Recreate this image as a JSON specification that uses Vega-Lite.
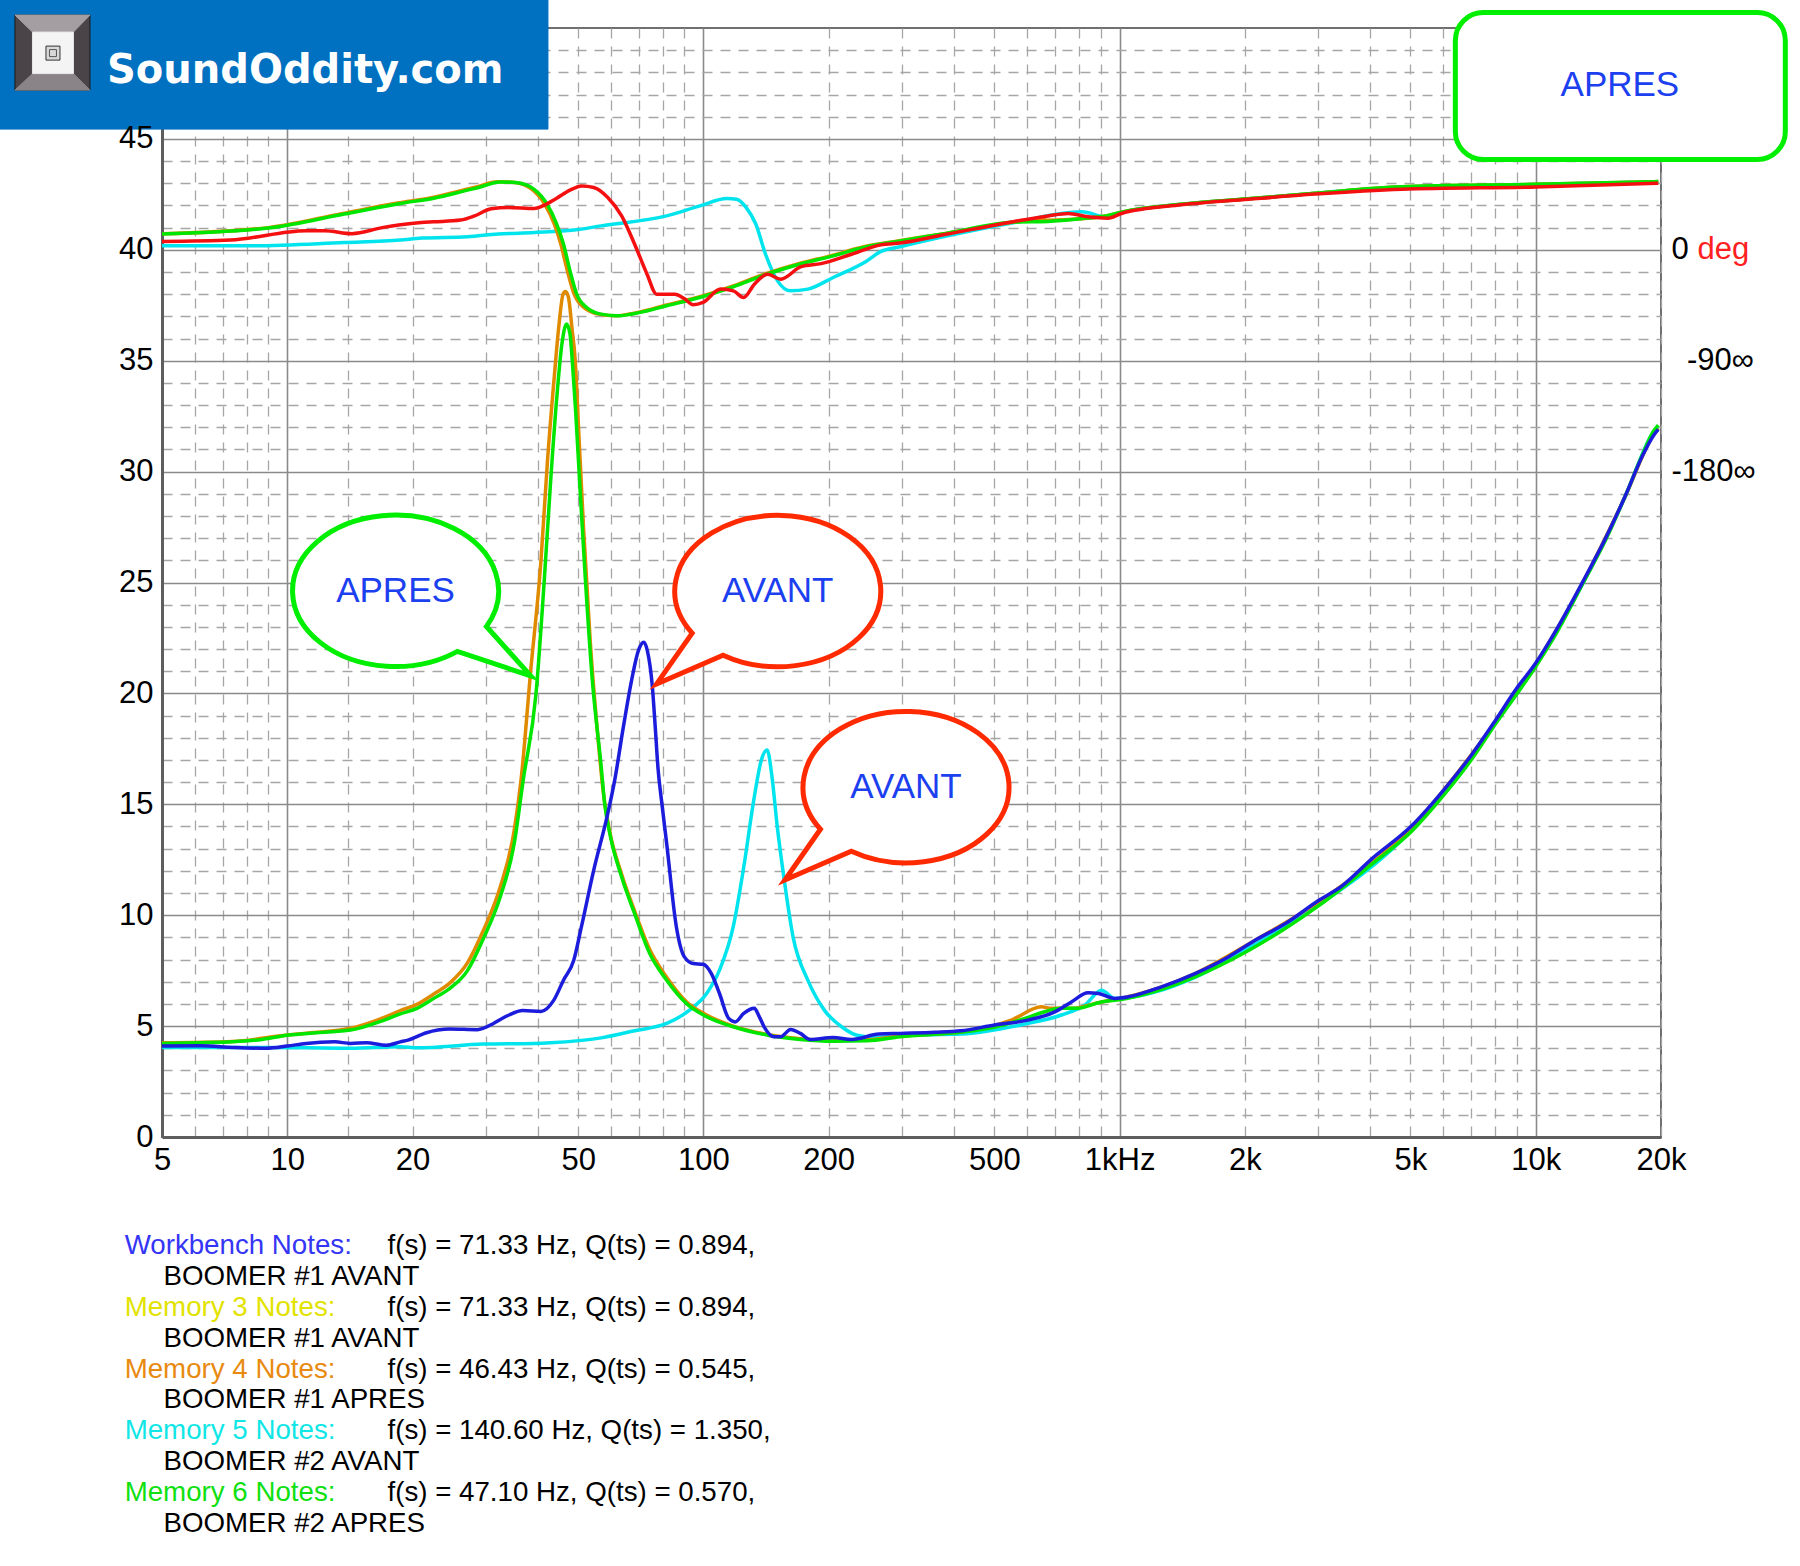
{
  "$schema": "https://vega.github.io/schema/vega-lite/v6.json",
  "width": 1499,
  "height": 1109,
  "autosize": {"type": "none"},
  "padding": {"left": 162, "top": 28, "right": 139, "bottom": 429},
  "background": "white",
  "config": {
    "view": {"stroke": "#707070", "strokeWidth": 2},
    "axis": {"labelFont": "Liberation Sans", "labelFontSize": 31, "labelColor": "#000000", "ticks": false, "tickSize": 0, "titleFont": "Liberation Sans"},
    "text": {"font": "Liberation Sans"}
  },
  "datasets": {
    "impedance": [
      {"series":"Memory 5","f":5,"z":4.04},{"series":"Memory 5","f":8.9,"z":4.04},{"series":"Memory 5","f":14.2,"z":4.0},{"series":"Memory 5","f":18.7,"z":4.07},{"series":"Memory 5","f":20.5,"z":4.02},{"series":"Memory 5","f":29.6,"z":4.19},{"series":"Memory 5","f":39.2,"z":4.22},{"series":"Memory 5","f":42.9,"z":4.25},{"series":"Memory 5","f":56.8,"z":4.47},{"series":"Memory 5","f":68.3,"z":4.79},{"series":"Memory 5","f":81.6,"z":5.12},{"series":"Memory 5","f":92.6,"z":5.72},{"series":"Memory 5","f":101.8,"z":6.47},{"series":"Memory 5","f":109.3,"z":7.52},{"series":"Memory 5","f":117.9,"z":9.47},{"series":"Memory 5","f":125,"z":12.17},{"series":"Memory 5","f":132.5,"z":15.33},{"series":"Memory 5","f":137.7,"z":16.98},{"series":"Memory 5","f":142.3,"z":17.45},{"series":"Memory 5","f":146,"z":16.3},{"series":"Memory 5","f":150.5,"z":13.98},{"series":"Memory 5","f":156,"z":11.73},{"series":"Memory 5","f":164.2,"z":9.02},{"series":"Memory 5","f":178.2,"z":7.07},{"series":"Memory 5","f":195.2,"z":5.72},{"series":"Memory 5","f":214.8,"z":4.97},{"series":"Memory 5","f":234,"z":4.59},{"series":"Memory 5","f":262,"z":4.49},{"series":"Memory 5","f":297,"z":4.59},{"series":"Memory 5","f":416,"z":4.64},{"series":"Memory 5","f":602,"z":5.12},{"series":"Memory 5","f":725,"z":5.5},{"series":"Memory 5","f":825,"z":5.95},{"series":"Memory 5","f":905,"z":6.62},{"series":"Memory 5","f":974,"z":6.25},{"series":"Memory 5","f":1518,"z":7.2},{"series":"Memory 5","f":2116,"z":8.72},{"series":"Memory 5","f":3006,"z":10.45},{"series":"Memory 5","f":5042,"z":13.85},{"series":"Memory 5","f":8000,"z":18.65},{"series":"Memory 5","f":9990,"z":21.25},{"series":"Memory 5","f":12930,"z":24.9},{"series":"Memory 5","f":16430,"z":28.9},{"series":"Memory 5","f":19230,"z":31.8},{"series":"Memory 5","f":19700,"z":32.0},
      {"series":"Memory 4","f":5,"z":4.25},{"series":"Memory 4","f":7.4,"z":4.31},{"series":"Memory 4","f":10,"z":4.6},{"series":"Memory 4","f":11.8,"z":4.72},{"series":"Memory 4","f":14.2,"z":4.9},{"series":"Memory 4","f":17.1,"z":5.39},{"series":"Memory 4","f":18.7,"z":5.7},{"series":"Memory 4","f":20.5,"z":5.98},{"series":"Memory 4","f":22.5,"z":6.45},{"series":"Memory 4","f":24.6,"z":6.95},{"series":"Memory 4","f":27.1,"z":7.85},{"series":"Memory 4","f":29.6,"z":9.32},{"series":"Memory 4","f":32.5,"z":11.28},{"series":"Memory 4","f":35.1,"z":13.83},{"series":"Memory 4","f":36.5,"z":16.2},{"series":"Memory 4","f":38.4,"z":20.89},{"series":"Memory 4","f":40.7,"z":25.99},{"series":"Memory 4","f":42.2,"z":30.5},{"series":"Memory 4","f":43.8,"z":34.25},{"series":"Memory 4","f":44.9,"z":36.5},{"series":"Memory 4","f":46,"z":38.0},{"series":"Memory 4","f":46.6,"z":38.12},{"series":"Memory 4","f":47.4,"z":37.85},{"series":"Memory 4","f":48.3,"z":36.5},{"series":"Memory 4","f":49.2,"z":35.0},{"series":"Memory 4","f":50.1,"z":32.0},{"series":"Memory 4","f":51.5,"z":27.5},{"series":"Memory 4","f":53.5,"z":22.24},{"series":"Memory 4","f":55.5,"z":18.48},{"series":"Memory 4","f":57.5,"z":15.5},{"series":"Memory 4","f":59.5,"z":13.8},{"series":"Memory 4","f":63.6,"z":11.85},{"series":"Memory 4","f":68.3,"z":10.2},{"series":"Memory 4","f":74.3,"z":8.45},{"series":"Memory 4","f":81.6,"z":7.2},{"series":"Memory 4","f":91,"z":6.1},{"series":"Memory 4","f":101.8,"z":5.5},{"series":"Memory 4","f":117.9,"z":5.0},{"series":"Memory 4","f":142.8,"z":4.62},{"series":"Memory 4","f":171,"z":4.43},{"series":"Memory 4","f":205,"z":4.35},{"series":"Memory 4","f":247,"z":4.38},{"series":"Memory 4","f":297,"z":4.55},{"series":"Memory 4","f":416,"z":4.73},{"series":"Memory 4","f":549,"z":5.27},{"series":"Memory 4","f":649,"z":5.87},{"series":"Memory 4","f":685,"z":5.8},{"series":"Memory 4","f":766,"z":5.8},{"series":"Memory 4","f":905,"z":6.09},{"series":"Memory 4","f":1007,"z":6.25},{"series":"Memory 4","f":1518,"z":7.37},{"series":"Memory 4","f":2116,"z":8.87},{"series":"Memory 4","f":3006,"z":10.6},{"series":"Memory 4","f":5042,"z":14.0},{"series":"Memory 4","f":8000,"z":18.7},{"series":"Memory 4","f":9990,"z":21.3},{"series":"Memory 4","f":12930,"z":24.95},{"series":"Memory 4","f":16430,"z":28.9},{"series":"Memory 4","f":19230,"z":31.7},{"series":"Memory 4","f":19700,"z":31.95},
      {"series":"Memory 6","f":5,"z":4.22},{"series":"Memory 6","f":6.2,"z":4.25},{"series":"Memory 6","f":7.4,"z":4.29},{"series":"Memory 6","f":8.7,"z":4.4},{"series":"Memory 6","f":10,"z":4.59},{"series":"Memory 6","f":11.8,"z":4.7},{"series":"Memory 6","f":14.2,"z":4.82},{"series":"Memory 6","f":17.1,"z":5.27},{"series":"Memory 6","f":18.7,"z":5.55},{"series":"Memory 6","f":20.5,"z":5.8},{"series":"Memory 6","f":22.5,"z":6.25},{"series":"Memory 6","f":24.6,"z":6.7},{"series":"Memory 6","f":27.1,"z":7.5},{"series":"Memory 6","f":29.6,"z":8.95},{"series":"Memory 6","f":32.5,"z":10.83},{"series":"Memory 6","f":35.1,"z":13.23},{"series":"Memory 6","f":36.9,"z":16.1},{"series":"Memory 6","f":39.6,"z":19.99},{"series":"Memory 6","f":41.5,"z":25.24},{"series":"Memory 6","f":43,"z":29.74},{"series":"Memory 6","f":44.5,"z":33.5},{"series":"Memory 6","f":45.7,"z":35.75},{"series":"Memory 6","f":46.9,"z":36.65},{"series":"Memory 6","f":47.8,"z":36.2},{"series":"Memory 6","f":48.4,"z":35.0},{"series":"Memory 6","f":49.3,"z":32.75},{"series":"Memory 6","f":50.6,"z":29.0},{"series":"Memory 6","f":52,"z":25.24},{"series":"Memory 6","f":54,"z":20.73},{"series":"Memory 6","f":56.8,"z":16.7},{"series":"Memory 6","f":57.9,"z":15.03},{"series":"Memory 6","f":59.8,"z":13.53},{"series":"Memory 6","f":63.6,"z":11.72},{"series":"Memory 6","f":68.3,"z":10.08},{"series":"Memory 6","f":74.3,"z":8.27},{"series":"Memory 6","f":81.6,"z":7.07},{"series":"Memory 6","f":91,"z":6.02},{"series":"Memory 6","f":101.8,"z":5.42},{"series":"Memory 6","f":117.9,"z":4.97},{"series":"Memory 6","f":142.8,"z":4.59},{"series":"Memory 6","f":171,"z":4.4},{"series":"Memory 6","f":205,"z":4.32},{"series":"Memory 6","f":247,"z":4.34},{"series":"Memory 6","f":297,"z":4.52},{"series":"Memory 6","f":416,"z":4.73},{"series":"Memory 6","f":500,"z":4.95},{"series":"Memory 6","f":602,"z":5.39},{"series":"Memory 6","f":649,"z":5.6},{"series":"Memory 6","f":725,"z":5.8},{"series":"Memory 6","f":790,"z":5.8},{"series":"Memory 6","f":905,"z":6.09},{"series":"Memory 6","f":1007,"z":6.2},{"series":"Memory 6","f":1518,"z":7.22},{"series":"Memory 6","f":2021,"z":8.36},{"series":"Memory 6","f":2500,"z":9.4},{"series":"Memory 6","f":3006,"z":10.42},{"series":"Memory 6","f":4037,"z":12.3},{"series":"Memory 6","f":5042,"z":13.8},{"series":"Memory 6","f":6064,"z":15.5},{"series":"Memory 6","f":7030,"z":17.05},{"series":"Memory 6","f":8000,"z":18.62},{"series":"Memory 6","f":9990,"z":21.2},{"series":"Memory 6","f":11160,"z":22.65},{"series":"Memory 6","f":12930,"z":24.9},{"series":"Memory 6","f":14710,"z":26.9},{"series":"Memory 6","f":16430,"z":28.92},{"series":"Memory 6","f":18030,"z":30.75},{"series":"Memory 6","f":19230,"z":31.85},{"series":"Memory 6","f":19700,"z":32.1},
      {"series":"Workbench","f":5,"z":4.1},{"series":"Workbench","f":6.2,"z":4.11},{"series":"Workbench","f":7.4,"z":4.04},{"series":"Workbench","f":8.9,"z":4.0},{"series":"Workbench","f":10,"z":4.1},{"series":"Workbench","f":11.1,"z":4.22},{"series":"Workbench","f":13,"z":4.29},{"series":"Workbench","f":14.2,"z":4.22},{"series":"Workbench","f":15.5,"z":4.25},{"series":"Workbench","f":17.3,"z":4.14},{"series":"Workbench","f":18.7,"z":4.29},{"series":"Workbench","f":19.5,"z":4.37},{"series":"Workbench","f":21.6,"z":4.7},{"series":"Workbench","f":23,"z":4.82},{"series":"Workbench","f":24.6,"z":4.87},{"series":"Workbench","f":28.6,"z":4.84},{"series":"Workbench","f":31.3,"z":5.12},{"series":"Workbench","f":32.5,"z":5.3},{"series":"Workbench","f":34.1,"z":5.5},{"series":"Workbench","f":36.8,"z":5.7},{"series":"Workbench","f":40.7,"z":5.66},{"series":"Workbench","f":43.7,"z":6.17},{"series":"Workbench","f":46.1,"z":7.07},{"series":"Workbench","f":48.8,"z":7.97},{"series":"Workbench","f":50.9,"z":9.47},{"series":"Workbench","f":54.5,"z":12.03},{"series":"Workbench","f":58.9,"z":14.58},{"series":"Workbench","f":61.2,"z":16.08},{"series":"Workbench","f":64.2,"z":18.48},{"series":"Workbench","f":67.2,"z":20.59},{"series":"Workbench","f":69.8,"z":21.94},{"series":"Workbench","f":71.9,"z":22.31},{"series":"Workbench","f":73.3,"z":21.94},{"series":"Workbench","f":75.4,"z":20.28},{"series":"Workbench","f":76.6,"z":18.48},{"series":"Workbench","f":77.8,"z":16.6},{"series":"Workbench","f":79.5,"z":15.0},{"series":"Workbench","f":81.6,"z":13.23},{"series":"Workbench","f":86.1,"z":9.47},{"series":"Workbench","f":90,"z":8.12},{"series":"Workbench","f":94.5,"z":7.82},{"series":"Workbench","f":99.8,"z":7.79},{"series":"Workbench","f":104.5,"z":7.37},{"series":"Workbench","f":109.3,"z":6.47},{"series":"Workbench","f":115,"z":5.35},{"series":"Workbench","f":119.2,"z":5.19},{"series":"Workbench","f":125,"z":5.57},{"series":"Workbench","f":132.5,"z":5.8},{"series":"Workbench","f":136,"z":5.45},{"series":"Workbench","f":139.9,"z":4.97},{"series":"Workbench","f":147.8,"z":4.52},{"series":"Workbench","f":153.3,"z":4.52},{"series":"Workbench","f":162,"z":4.85},{"series":"Workbench","f":171,"z":4.67},{"series":"Workbench","f":180.5,"z":4.4},{"series":"Workbench","f":205,"z":4.49},{"series":"Workbench","f":227,"z":4.4},{"series":"Workbench","f":264,"z":4.64},{"series":"Workbench","f":297,"z":4.67},{"series":"Workbench","f":360,"z":4.72},{"series":"Workbench","f":416,"z":4.79},{"series":"Workbench","f":501,"z":5.05},{"series":"Workbench","f":602,"z":5.27},{"series":"Workbench","f":699,"z":5.64},{"series":"Workbench","f":766,"z":6.09},{"series":"Workbench","f":840,"z":6.5},{"series":"Workbench","f":889,"z":6.47},{"series":"Workbench","f":974,"z":6.25},{"series":"Workbench","f":1049,"z":6.32},{"series":"Workbench","f":1261,"z":6.77},{"series":"Workbench","f":1518,"z":7.37},{"series":"Workbench","f":1825,"z":8.12},{"series":"Workbench","f":2116,"z":8.87},{"series":"Workbench","f":2498,"z":9.61},{"series":"Workbench","f":3006,"z":10.66},{"series":"Workbench","f":3419,"z":11.31},{"series":"Workbench","f":4037,"z":12.54},{"series":"Workbench","f":5042,"z":14.04},{"series":"Workbench","f":6064,"z":15.73},{"series":"Workbench","f":7030,"z":17.26},{"series":"Workbench","f":8000,"z":18.78},{"series":"Workbench","f":8940,"z":20.15},{"series":"Workbench","f":9990,"z":21.36},{"series":"Workbench","f":11160,"z":22.81},{"series":"Workbench","f":12930,"z":24.98},{"series":"Workbench","f":14710,"z":26.99},{"series":"Workbench","f":16430,"z":28.92},{"series":"Workbench","f":18030,"z":30.69},{"series":"Workbench","f":19230,"z":31.65},{"series":"Workbench","f":19700,"z":31.9}
    ],
    "phase": [
      {"series":"Memory 5","f":5,"deg":3.2},{"series":"Memory 5","f":8.1,"deg":3.2},{"series":"Memory 5","f":13.7,"deg":5.9},{"series":"Memory 5","f":18.7,"deg":7.9},{"series":"Memory 5","f":21,"deg":9.5},{"series":"Memory 5","f":27.1,"deg":10.6},{"series":"Memory 5","f":32.1,"deg":12.8},{"series":"Memory 5","f":39.2,"deg":14.0},{"series":"Memory 5","f":48.9,"deg":16.0},{"series":"Memory 5","f":56.8,"deg":19.4},{"series":"Memory 5","f":81.6,"deg":27.5},{"series":"Memory 5","f":98,"deg":35.6},{"series":"Memory 5","f":113.9,"deg":41.6},{"series":"Memory 5","f":120.1,"deg":41.0},{"series":"Memory 5","f":126.6,"deg":34.4},{"series":"Memory 5","f":133.6,"deg":20.9},{"series":"Memory 5","f":141,"deg":-3.6},{"series":"Memory 5","f":150.7,"deg":-25.2},{"series":"Memory 5","f":161.7,"deg":-33.3},{"series":"Memory 5","f":178.2,"deg":-31.9},{"series":"Memory 5","f":205,"deg":-22.5},{"series":"Memory 5","f":247,"deg":-9.0},{"series":"Memory 5","f":267,"deg":-1.3},{"series":"Memory 5","f":297,"deg":2.5},{"series":"Memory 5","f":386,"deg":11.3},{"series":"Memory 5","f":559,"deg":22.1},{"series":"Memory 5","f":810,"deg":30.8},{"series":"Memory 5","f":939,"deg":26.3},{"series":"Memory 5","f":1010,"deg":30.2},{"series":"Memory 5","f":1409,"deg":36.9},{"series":"Memory 5","f":2039,"deg":41.4},{"series":"Memory 5","f":2951,"deg":45.9},{"series":"Memory 5","f":4771,"deg":51.0},{"series":"Memory 5","f":10000,"deg":53.0},{"series":"Memory 5","f":19700,"deg":55.2},
      {"series":"Memory 4","f":5,"deg":13.0},{"series":"Memory 4","f":9,"deg":18.0},{"series":"Memory 4","f":13.5,"deg":29.3},{"series":"Memory 4","f":18.4,"deg":37.9},{"series":"Memory 4","f":22.2,"deg":42.2},{"series":"Memory 4","f":26.7,"deg":48.8},{"series":"Memory 4","f":28.3,"deg":50.7},{"series":"Memory 4","f":32,"deg":55.3},{"series":"Memory 4","f":35.2,"deg":54.7},{"series":"Memory 4","f":38.6,"deg":49.4},{"series":"Memory 4","f":41.5,"deg":37.3},{"series":"Memory 4","f":43.8,"deg":21.0},{"series":"Memory 4","f":45.4,"deg":4.8},{"series":"Memory 4","f":47.1,"deg":-17.0},{"series":"Memory 4","f":48.9,"deg":-36.0},{"series":"Memory 4","f":51.6,"deg":-46.8},{"series":"Memory 4","f":56,"deg":-52.2},{"series":"Memory 4","f":61.4,"deg":-53.5},{"series":"Memory 4","f":69.6,"deg":-50.8},{"series":"Memory 4","f":80.4,"deg":-45.4},{"series":"Memory 4","f":96.6,"deg":-38.7},{"series":"Memory 4","f":116,"deg":-30.1},{"series":"Memory 4","f":140,"deg":-19.8},{"series":"Memory 4","f":168.5,"deg":-11.5},{"series":"Memory 4","f":202,"deg":-4.9},{"series":"Memory 4","f":243,"deg":2.5},{"series":"Memory 4","f":293,"deg":7.2},{"series":"Memory 4","f":386,"deg":13.5},{"series":"Memory 4","f":559,"deg":22.5},{"series":"Memory 4","f":649,"deg":25.0},{"series":"Memory 4","f":673,"deg":24.0},{"series":"Memory 4","f":808,"deg":25.2},{"series":"Memory 4","f":939,"deg":27.9},{"series":"Memory 4","f":1010,"deg":30.6},{"series":"Memory 4","f":1409,"deg":36.9},{"series":"Memory 4","f":2039,"deg":41.4},{"series":"Memory 4","f":2951,"deg":45.9},{"series":"Memory 4","f":4771,"deg":51.1},{"series":"Memory 4","f":10000,"deg":53.1},{"series":"Memory 4","f":19700,"deg":55.4},
      {"series":"Memory 6","f":5,"deg":12.8},{"series":"Memory 6","f":9,"deg":17.6},{"series":"Memory 6","f":13.7,"deg":29.0},{"series":"Memory 6","f":18.7,"deg":37.6},{"series":"Memory 6","f":22.5,"deg":41.9},{"series":"Memory 6","f":27.1,"deg":48.4},{"series":"Memory 6","f":28.7,"deg":50.4},{"series":"Memory 6","f":32.5,"deg":55.1},{"series":"Memory 6","f":35.7,"deg":54.5},{"series":"Memory 6","f":39.2,"deg":49.1},{"series":"Memory 6","f":42.1,"deg":37.1},{"series":"Memory 6","f":44.4,"deg":20.9},{"series":"Memory 6","f":46.1,"deg":4.7},{"series":"Memory 6","f":47.8,"deg":-17.1},{"series":"Memory 6","f":49.6,"deg":-36.0},{"series":"Memory 6","f":52.4,"deg":-46.8},{"series":"Memory 6","f":56.8,"deg":-52.2},{"series":"Memory 6","f":62.3,"deg":-53.5},{"series":"Memory 6","f":70.6,"deg":-50.8},{"series":"Memory 6","f":81.6,"deg":-45.4},{"series":"Memory 6","f":98,"deg":-38.7},{"series":"Memory 6","f":117.9,"deg":-30.1},{"series":"Memory 6","f":142,"deg":-19.8},{"series":"Memory 6","f":171,"deg":-11.5},{"series":"Memory 6","f":205,"deg":-4.9},{"series":"Memory 6","f":247,"deg":2.5},{"series":"Memory 6","f":297,"deg":7.2},{"series":"Memory 6","f":386,"deg":13.5},{"series":"Memory 6","f":559,"deg":22.5},{"series":"Memory 6","f":673,"deg":23.0},{"series":"Memory 6","f":808,"deg":25.2},{"series":"Memory 6","f":939,"deg":27.9},{"series":"Memory 6","f":1010,"deg":30.6},{"series":"Memory 6","f":1409,"deg":36.9},{"series":"Memory 6","f":2039,"deg":41.4},{"series":"Memory 6","f":2951,"deg":45.9},{"series":"Memory 6","f":4771,"deg":51.1},{"series":"Memory 6","f":10000,"deg":53.1},{"series":"Memory 6","f":19700,"deg":55.4},
      {"series":"Workbench","f":5,"deg":6.7},{"series":"Workbench","f":7.3,"deg":7.9},{"series":"Workbench","f":11.1,"deg":15.5},{"series":"Workbench","f":12.3,"deg":15.5},{"series":"Workbench","f":14.3,"deg":13.1},{"series":"Workbench","f":16.9,"deg":18.0},{"series":"Workbench","f":18.7,"deg":20.3},{"series":"Workbench","f":21,"deg":22.1},{"series":"Workbench","f":22.5,"deg":22.7},{"series":"Workbench","f":26.1,"deg":24.1},{"series":"Workbench","f":28.2,"deg":27.5},{"series":"Workbench","f":30.9,"deg":33.3},{"series":"Workbench","f":34,"deg":34.4},{"series":"Workbench","f":39.2,"deg":33.5},{"series":"Workbench","f":41.1,"deg":35.6},{"series":"Workbench","f":44.4,"deg":41.9},{"series":"Workbench","f":47.8,"deg":48.4},{"series":"Workbench","f":51,"deg":51.8},{"series":"Workbench","f":54.5,"deg":50.6},{"series":"Workbench","f":58.9,"deg":42.5},{"series":"Workbench","f":63.6,"deg":27.5},{"series":"Workbench","f":68.3,"deg":4.7},{"series":"Workbench","f":73.2,"deg":-19.8},{"series":"Workbench","f":77.2,"deg":-36.0},{"series":"Workbench","f":85.4,"deg":-36.0},{"series":"Workbench","f":89.9,"deg":-39.6},{"series":"Workbench","f":94.5,"deg":-44.6},{"series":"Workbench","f":99.8,"deg":-42.7},{"series":"Workbench","f":110,"deg":-31.9},{"series":"Workbench","f":118,"deg":-33.3},{"series":"Workbench","f":124.9,"deg":-38.7},{"series":"Workbench","f":132.6,"deg":-27.9},{"series":"Workbench","f":142.7,"deg":-19.8},{"series":"Workbench","f":153.4,"deg":-23.8},{"series":"Workbench","f":171.7,"deg":-13.7},{"series":"Workbench","f":191.9,"deg":-11.2},{"series":"Workbench","f":227,"deg":-3.6},{"series":"Workbench","f":267,"deg":4.0},{"series":"Workbench","f":297,"deg":5.5},{"series":"Workbench","f":386,"deg":12.8},{"series":"Workbench","f":559,"deg":23.0},{"series":"Workbench","f":673,"deg":27.5},{"series":"Workbench","f":752,"deg":29.5},{"series":"Workbench","f":840,"deg":26.8},{"series":"Workbench","f":939,"deg":25.7},{"series":"Workbench","f":1010,"deg":29.5},{"series":"Workbench","f":1409,"deg":36.5},{"series":"Workbench","f":2039,"deg":41.0},{"series":"Workbench","f":2951,"deg":45.2},{"series":"Workbench","f":4771,"deg":49.1},{"series":"Workbench","f":10000,"deg":51.0},{"series":"Workbench","f":19700,"deg":54.0}
    ],
    "logo": [
      {"part":"banner","f":9.29,"z":48.35},
      {"part":"frame","f":9.29,"z":48.35},
      {"part":"top","f":9.29,"z":48.35},
      {"part":"bottom","f":9.29,"z":48.35},
      {"part":"face","f":9.29,"z":48.35},
      {"part":"knob","f":9.29,"z":48.35},
      {"part":"knobInner","f":9.29,"z":48.35}
    ],
    "site": [{"text":"SoundOddity.com","f":3.689,"z":47.53}],
    "box": [{"text":"APRES","f":15930,"z":47.43,"f1":6410,"f2":39790,"z1":50.7,"z2":44.07}],
    "bubbles": [
      {"kind":"APRES","f":18.2,"z":24.62},
      {"kind":"AVANT","f":150.8,"z":24.62},
      {"kind":"AVANT","f":306.6,"z":15.78}
    ],
    "notes": [
      {"line":1,"part":"label","series":"Workbench","text":"Workbench Notes:"},
      {"line":1,"part":"value","series":"Workbench","text":"f(s) = 71.33 Hz, Q(ts) = 0.894,"},
      {"line":2,"part":"desc","series":"Workbench","text":"BOOMER #1 AVANT"},
      {"line":3,"part":"label","series":"Memory 3","text":"Memory 3 Notes:"},
      {"line":3,"part":"value","series":"Memory 3","text":"f(s) = 71.33 Hz, Q(ts) = 0.894,"},
      {"line":4,"part":"desc","series":"Memory 3","text":"BOOMER #1 AVANT"},
      {"line":5,"part":"label","series":"Memory 4","text":"Memory 4 Notes:"},
      {"line":5,"part":"value","series":"Memory 4","text":"f(s) = 46.43 Hz, Q(ts) = 0.545,"},
      {"line":6,"part":"desc","series":"Memory 4","text":"BOOMER #1 APRES"},
      {"line":7,"part":"label","series":"Memory 5","text":"Memory 5 Notes:"},
      {"line":7,"part":"value","series":"Memory 5","text":"f(s) = 140.60 Hz, Q(ts) = 1.350,"},
      {"line":8,"part":"desc","series":"Memory 5","text":"BOOMER #2 AVANT"},
      {"line":9,"part":"label","series":"Memory 6","text":"Memory 6 Notes:"},
      {"line":9,"part":"value","series":"Memory 6","text":"f(s) = 47.10 Hz, Q(ts) = 0.570,"},
      {"line":10,"part":"desc","series":"Memory 6","text":"BOOMER #2 APRES"}
    ]
  },
  "layer": [
    {
      "data": {"name": "logo"},
      "mark": {"type": "point", "opacity": 0},
      "encoding": {
        "x": {"field": "f", "type": "quantitative", "title": null, "scale": {"type": "log", "domain": [5, 20000], "nice": false}},
        "y": {
          "field": "z", "type": "quantitative", "title": null,
          "scale": {"domain": [0, 50], "nice": false, "zero": false},
          "axis": {
            "orient": "left",
            "values": [1,2,3,4,5,6,7,8,9,10,11,12,13,14,15,16,17,18,19,20,21,22,23,24,25,26,27,28,29,30,31,32,33,34,35,36,37,38,39,40,41,42,43,44,45,46,47,48,49],
            "labels": false,
            "domain": true,
            "domainColor": "#5e5e5e",
            "domainWidth": 3,
            "grid": true,
            "gridColor": {"condition": {"test": "indexof([5,10,15,20,25,30,35,40,45], datum.value) >= 0", "value": "#8a8a8a"}, "value": "#a6a6a6"},
            "gridDash": {"condition": {"test": "indexof([5,10,15,20,25,30,35,40,45], datum.value) >= 0", "value": []}, "value": [10, 8]},
            "gridWidth": {"condition": {"test": "indexof([5,10,15,20,25,30,35,40,45], datum.value) >= 0", "value": 1.6}, "value": 1.3}
          }
        }
      }
    },
    {
      "layer": [
        {
          "data": {"name": "impedance"},
          "mark": {"type": "line", "strokeWidth": 3.5, "interpolate": "monotone"},
          "encoding": {
            "x": {
              "field": "f", "type": "quantitative", "title": null,
              "scale": {"type": "log", "domain": [5, 20000], "nice": false},
              "axis": {
                "values": [5,6,7,8,9,10,14,20,30,40,50,60,70,80,90,100,200,300,400,500,600,700,800,900,1000,2000,3000,4000,5000,6000,7000,8000,9000,10000,20000],
                "labelExpr": "indexof([5,10,20,50,100,200,500], datum.value) >= 0 ? '' + datum.value : datum.value == 1000 ? '1kHz' : indexof([2000,5000,10000,20000], datum.value) >= 0 ? (datum.value / 1000) + 'k' : ''",
                "labelFontSize": {"condition": {"test": "indexof([5,10,20,50,100,200,500,1000,2000,5000,10000,20000], datum.value) >= 0", "value": 31}, "value": 0},
                "labelFlush": false,
                "labelOverlap": false,
                "labelPadding": 8,
                "grid": true,
                "gridColor": {"condition": {"test": "indexof([10,100,1000,10000], datum.value) >= 0", "value": "#8a8a8a"}, "value": "#a6a6a6"},
                "gridDash": {"condition": {"test": "indexof([10,100,1000,10000], datum.value) >= 0", "value": []}, "value": [10, 8]},
                "gridWidth": {"condition": {"test": "indexof([10,100,1000,10000], datum.value) >= 0", "value": 1.6}, "value": 1.3},
                "domainColor": "#5e5e5e",
                "domainWidth": 3
              }
            },
            "y": {
              "field": "z", "type": "quantitative", "title": null,
              "scale": {"domain": [0, 50], "nice": false, "zero": false},
              "axis": {
                "orient": "left",
                "values": [0, 5, 10, 15, 20, 25, 30, 35, 40, 45],
                "labelOverlap": false,
                "labelPadding": 9,
                "grid": false,
                "domain": false,
                "zindex": 1
              }
            },
            "color": {
              "field": "series", "type": "nominal", "legend": null,
              "scale": {"domain": ["Memory 5", "Memory 4", "Memory 6", "Workbench"], "range": ["#00e4ee", "#e08a00", "#00e600", "#1c1cdc"]}
            }
          }
        },
        {
          "data": {"name": "logo"},
          "mark": {"type": "point", "size": 300304, "filled": true, "opacity": 1, "strokeWidth": 1},
          "encoding": {
            "x": {"field": "f", "type": "quantitative", "title": null},
            "y": {"field": "z", "type": "quantitative", "title": null},
            "shape": {
              "field": "part", "type": "nominal", "legend": null,
              "scale": {
                "domain": ["banner", "frame", "top", "bottom", "face", "knob", "knobInner"],
                "range": [
                  "M-1,-0.2354L1,-0.2354L1,0.2354L-1,0.2354Z",
                  "M-0.9453,-0.1807L-0.6715,-0.1807L-0.6715,0.0931L-0.9453,0.0931Z",
                  "M-0.9453,-0.1807L-0.6715,-0.1807L-0.7318,-0.1186L-0.8814,-0.1186Z",
                  "M-0.9453,0.0931L-0.6715,0.0931L-0.7318,0.0328L-0.8814,0.0328Z",
                  "M-0.8814,-0.1186L-0.7318,-0.1186L-0.7318,0.0328L-0.8814,0.0328Z",
                  "M-0.8321,-0.0675L-0.781,-0.0675L-0.781,-0.0164L-0.8321,-0.0164Z",
                  "M-0.8193,-0.0547L-0.7938,-0.0547L-0.7938,-0.0292L-0.8193,-0.0292Z"
                ]
              }
            },
            "fill": {
              "field": "part", "type": "nominal", "legend": null,
              "scale": {"domain": ["banner", "frame", "top", "bottom", "face", "knob", "knobInner"], "range": ["#0070c0", "#4a4448", "#a49ea2", "#8a8488", "#f4f4f4", "#d8d8d8", "#d8d8d8"]}
            },
            "stroke": {
              "field": "part", "type": "nominal", "legend": null,
              "scale": {"domain": ["banner", "frame", "top", "bottom", "face", "knob", "knobInner"], "range": ["#0070c0", "#1a1a1a", "#a49ea2", "#8a8488", "#e8e8e8", "#333333", "#555555"]}
            }
          }
        },
        {
          "data": {"name": "site"},
          "mark": {"type": "text", "align": "left", "baseline": "alphabetic", "font": "DejaVu Sans", "fontWeight": "bold", "fontSize": 40, "color": "#ffffff"},
          "encoding": {
            "x": {"field": "f", "type": "quantitative", "title": null},
            "y": {"field": "z", "type": "quantitative", "title": null},
            "text": {"field": "text"}
          }
        },
        {
          "data": {"name": "box"},
          "mark": {"type": "rect", "fill": "#ffffff", "stroke": "#00ee00", "strokeWidth": 5, "cornerRadius": 28},
          "encoding": {
            "x": {"field": "f1", "type": "quantitative", "title": null},
            "x2": {"field": "f2"},
            "y": {"field": "z1", "type": "quantitative", "title": null},
            "y2": {"field": "z2"}
          }
        },
        {
          "data": {"name": "box"},
          "mark": {"type": "text", "align": "center", "baseline": "middle", "fontSize": 35, "color": "#1c3ff0"},
          "encoding": {
            "x": {"field": "f", "type": "quantitative", "title": null},
            "y": {"field": "z", "type": "quantitative", "title": null},
            "text": {"field": "text"}
          }
        },
        {
          "data": {"name": "bubbles"},
          "mark": {"type": "point", "size": 42436, "filled": true, "fill": "#ffffff", "opacity": 1, "strokeWidth": 5, "strokeJoin": "miter"},
          "encoding": {
            "x": {"field": "f", "type": "quantitative", "title": null},
            "y": {"field": "z", "type": "quantitative", "title": null},
            "shape": {
              "field": "kind", "type": "nominal", "legend": null,
              "scale": {
                "domain": ["APRES", "AVANT"],
                "range": [
                  "M0.883,0.345L1.313,0.825L0.601,0.587A1,0.735,0,1,1,0.883,0.345Z",
                  "M-0.83,0.41L-1.175,0.903L-0.53,0.624A1,0.735,0,1,0,-0.83,0.41Z"
                ]
              }
            },
            "stroke": {
              "field": "kind", "type": "nominal", "legend": null,
              "scale": {"domain": ["APRES", "AVANT"], "range": ["#00ee00", "#ff2a00"]}
            }
          }
        },
        {
          "data": {"name": "bubbles"},
          "mark": {"type": "text", "align": "center", "baseline": "middle", "fontSize": 35, "color": "#1c3ff0"},
          "encoding": {
            "x": {"field": "f", "type": "quantitative", "title": null},
            "y": {"field": "z", "type": "quantitative", "title": null},
            "text": {"field": "kind"}
          }
        }
      ],
      "resolve": {"scale": {"shape": "independent", "fill": "independent", "stroke": "independent"}}
    },
    {
      "data": {"name": "phase"},
      "mark": {"type": "line", "strokeWidth": 3.5, "interpolate": "monotone"},
      "encoding": {
        "x": {"field": "f", "type": "quantitative", "title": null, "scale": {"type": "log", "domain": [5, 20000], "nice": false}},
        "y": {
          "field": "deg", "type": "quantitative", "title": "deg",
          "scale": {"domain": [-720, 180], "nice": false, "zero": false},
          "axis": {
            "orient": "right",
            "values": [0, -90, -180],
            "labelExpr": "datum.value == 0 ? '0' : datum.value == -90 ? '\u200b\u2002-90\u221e' : '-180\u221e'",
            "labelAlign": "left",
            "labelBaseline": "middle",
            "labelOverlap": false,
            "labelPadding": 10,
            "grid": false,
            "domain": false,
            "titleColor": "#ff2020",
            "titleFont": "Liberation Sans",
            "titleFontSize": 31,
            "titleFontWeight": "normal",
            "titleAngle": 0,
            "titleAlign": "left",
            "titleBaseline": "middle",
            "titleX": 36,
            "titleY": 221
          }
        },
        "color": {
          "field": "series", "type": "nominal", "legend": null,
          "scale": {"domain": ["Memory 5", "Memory 4", "Memory 6", "Workbench"], "range": ["#00e4ee", "#e08a00", "#00e600", "#f41010"]}
        }
      }
    },
    {
      "data": {"name": "notes"},
      "encoding": {
        "y": {"field": "line", "type": "quantitative", "title": null, "axis": null, "scale": {"domain": [1, 10], "range": [1218, 1496], "nice": false, "zero": false}}
      },
      "layer": [
        {
          "transform": [{"filter": "datum.part == 'label'"}],
          "mark": {"type": "text", "align": "left", "baseline": "middle", "fontSize": 27.7},
          "encoding": {
            "x": {"datum": 4.066, "type": "quantitative", "title": null},
            "text": {"field": "text"},
            "color": {
              "field": "series", "type": "nominal", "legend": null,
              "scale": {"domain": ["Workbench", "Memory 3", "Memory 4", "Memory 5", "Memory 6"], "range": ["#3535f5", "#e2e200", "#e88a10", "#10e6e6", "#10e010"]}
            }
          }
        },
        {
          "transform": [{"filter": "datum.part == 'value'"}],
          "mark": {"type": "text", "align": "left", "baseline": "middle", "fontSize": 27.7, "color": "#000000"},
          "encoding": {
            "x": {"datum": 17.41, "type": "quantitative", "title": null},
            "text": {"field": "text"}
          }
        },
        {
          "transform": [{"filter": "datum.part == 'desc'"}],
          "mark": {"type": "text", "align": "left", "baseline": "middle", "fontSize": 27.7, "color": "#000000"},
          "encoding": {
            "x": {"datum": 5.04, "type": "quantitative", "title": null},
            "text": {"field": "text"}
          }
        }
      ]
    }
  ],
  "resolve": {"scale": {"y": "independent", "color": "independent"}, "axis": {"y": "independent"}}
}
